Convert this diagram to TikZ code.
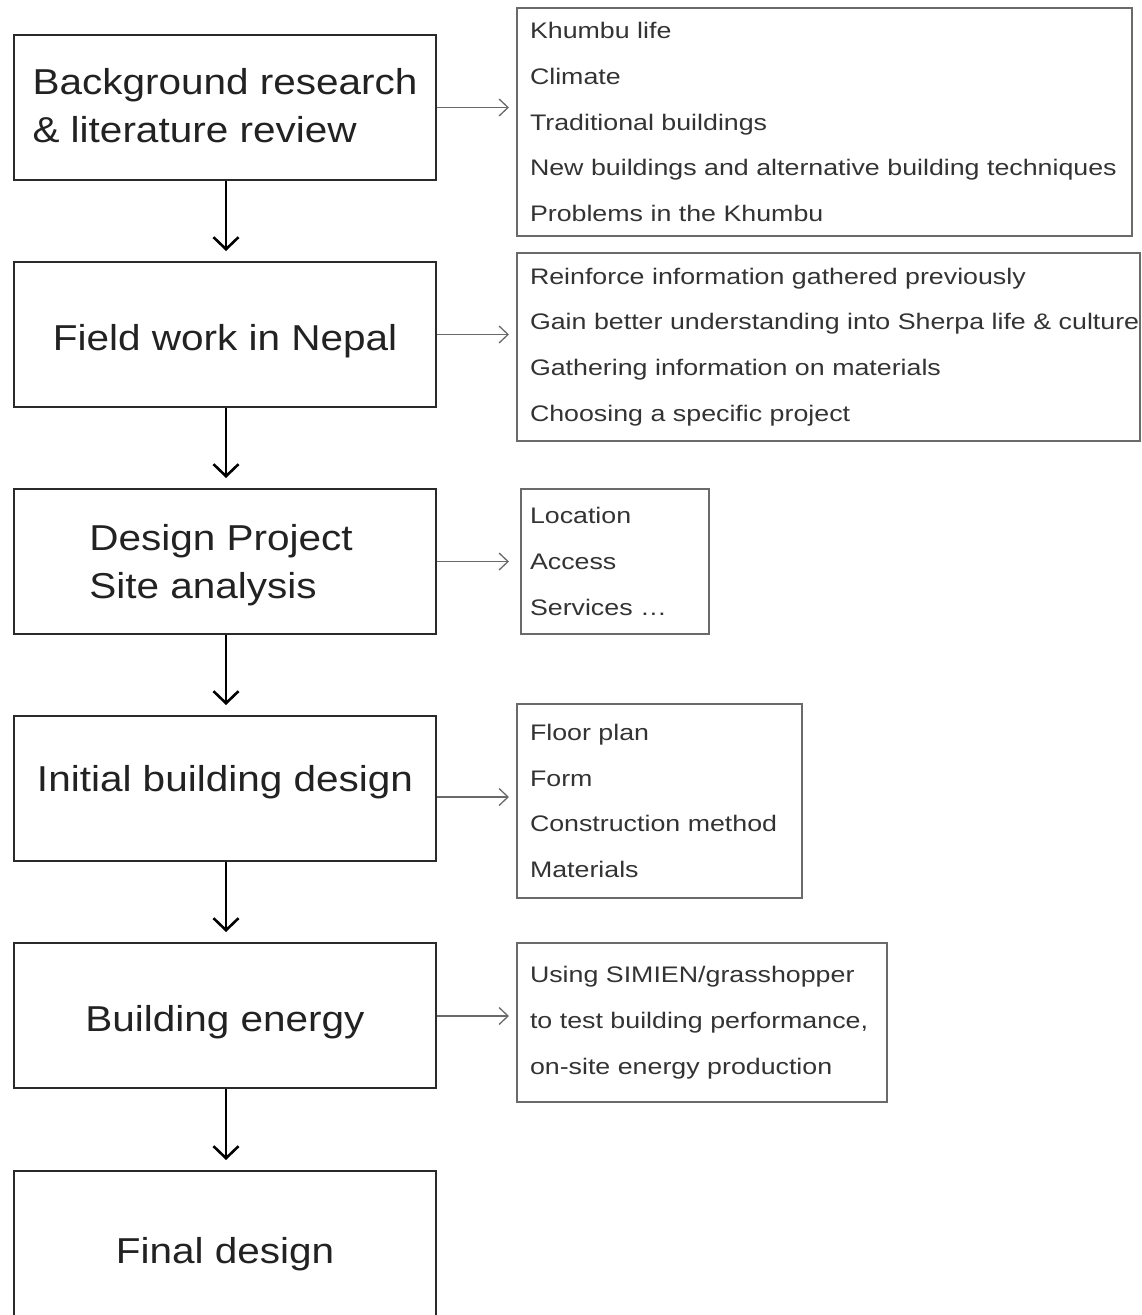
\documentclass[tikz,border=0pt]{standalone}
\usepackage{fontspec}
\setmainfont{Liberation Sans}
\newfontfamily\leftfont[FakeStretch=1.125]{Liberation Sans}
\newfontfamily\rightfont[FakeStretch=1.19]{Liberation Sans}
\usetikzlibrary{arrows.meta,calc}
\definecolor{boxdark}{HTML}{2A2A2A}
\definecolor{boxgray}{HTML}{6A6A6A}
\definecolor{textdark}{HTML}{222222}
\definecolor{textgray}{HTML}{333333}
\begin{document}
\begin{tikzpicture}[x=1pt,y=-1pt,
  stagebox/.style={draw=boxdark, line width=2pt, minimum width=422pt, minimum height=145pt, inner sep=0pt},
  stagetext/.style={align=left, text=textdark, font=\leftfont\fontsize{36}{48}\selectfont, inner sep=0pt},
  infobox/.style={draw=boxgray, line width=1.3pt, align=left, text=textgray,
    font=\rightfont\fontsize{22.5}{45.7}\selectfont, inner xsep=13pt, inner ysep=0pt},
  flowarrow/.style={draw=black, line width=2.6pt, -{Straight Barb[length=12pt,width=25pt,line width=2.6pt]}, shorten >=10pt},
  sidearrow/.style={draw=boxgray, line width=1.3pt, -{Straight Barb[length=9pt,width=17pt,line width=1.3pt]}}
]
\useasboundingbox (0,0) rectangle (1141,1315);

% stage boxes
\node[stagebox, label={[stagetext, yshift=1.5pt]center:Background research\\\& literature review}] (b1) at (225,107.5) {};
\node[stagebox, label={[stagetext, yshift=-7pt]center:Field work in Nepal}] (b2) at (225,334.5) {};
\node[stagebox, label={[stagetext, yshift=-4pt, xshift=-4pt]center:Design Project\\Site analysis}] (b3) at (225,561.5) {};
\node[stagebox, label={[stagetext, yshift=6pt]center:Initial building design}] (b4) at (225,788.5) {};
\node[stagebox, label={[stagetext, yshift=-7pt]center:Building energy}] (b5) at (225,1015.5) {};
\node[stagebox, minimum height=152pt, label={[stagetext, yshift=-7pt]center:Final design}] (b6) at (225,1247) {};

% info boxes
\node[infobox, minimum width=615pt, minimum height=228pt, text width=589pt] (r1) at (824.5,122)
  {Khumbu life\\Climate\\Traditional buildings\\New buildings and alternative building techniques\\Problems in the Khumbu};
\node[infobox, minimum width=623pt, minimum height=188pt, text width=597pt] (r2) at (828.5,347)
  {Reinforce information gathered previously\\\mbox{Gain better understanding into Sherpa life \& culture}\\Gathering information on materials\\Choosing a specific project};
\node[infobox, minimum width=188pt, minimum height=145pt, text width=170pt, inner xsep=9pt] (r3) at (615,561.5)
  {Location\\Access\\Services \ldots};
\node[infobox, minimum width=285pt, minimum height=194pt, text width=259pt] (r4) at (659.5,801)
  {Floor plan\\Form\\Construction method\\Materials};
\node[infobox, minimum width=370pt, minimum height=159pt, text width=344pt] (r5) at (702,1022.5)
  {Using SIMIEN/grasshopper\\to test building performance,\\on-site energy production};

% flow arrows
\draw[flowarrow] ([xshift=1pt]b1.south) -- ([xshift=1pt]b2.north);
\draw[flowarrow] ([xshift=1pt]b2.south) -- ([xshift=1pt]b3.north);
\draw[flowarrow] ([xshift=1pt]b3.south) -- ([xshift=1pt]b4.north);
\draw[flowarrow] ([xshift=1pt]b4.south) -- ([xshift=1pt]b5.north);
\draw[flowarrow] ([xshift=1pt]b5.south) -- ([xshift=1pt]b6.north);

% side arrows
\coordinate (e1) at ($(b1.east)+(72,0)$);
\coordinate (e2) at ($(b2.east)+(72,0)$);
\coordinate (e3) at ($(b3.east)+(72,0)$);
\coordinate (e4) at ($(b4.east)+(72,8.5)$);
\coordinate (e5) at ($(b5.east)+(72,0.5)$);
\draw[sidearrow] (b1.east) -- (e1);
\draw[sidearrow] (b2.east) -- (e2);
\draw[sidearrow] (b3.east) -- (e3);
\draw[sidearrow] ([yshift=-8.5pt]b4.east) -- (e4);
\draw[sidearrow] ([yshift=-0.5pt]b5.east) -- (e5);
\end{tikzpicture}
\end{document}
